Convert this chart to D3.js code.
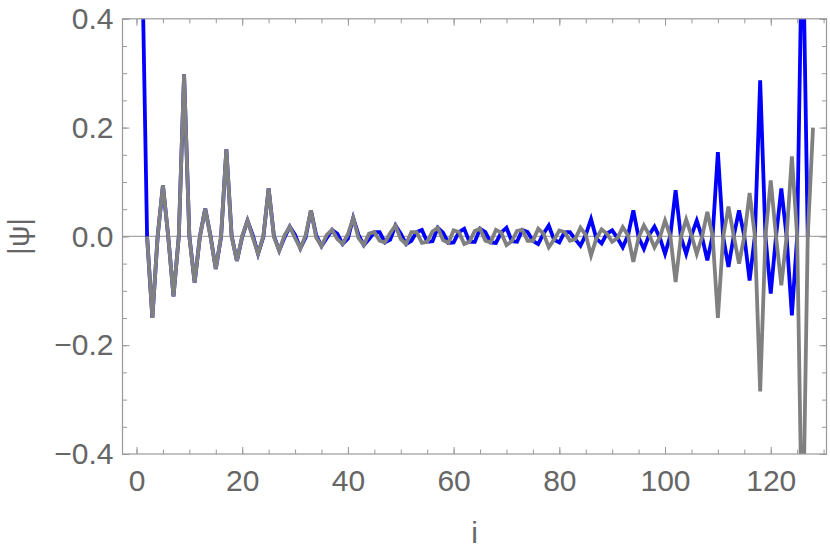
<!DOCTYPE html>
<html>
  <head>
    <script src="https://d3js.org/d3.v7.min.js"></script>
    <style>
      body { margin: 0; background: #fff; }
      text { font-family: "Liberation Sans", Arial, sans-serif; }
    </style>
  </head>
  <body>
    <svg width="830" height="550"></svg>

    <script type="text/javascript">
      // site index i = 1..128
      var sites = d3.range(1, 129);

      // blue curve (no point at i = 128)
      var blueValues = [
        0.55, 0, -0.15, 0, 0.094, 0, -0.11, 0, 0.298, 0.001,
        -0.085, 0, 0.051, 0.001, -0.06, -0.001, 0.16, 0.001, -0.045, -0.001,
        0.029, 0.002, -0.032, -0.001, 0.088, 0.001, -0.026, -0.002, 0.018, 0.003,
        -0.022, -0.002, 0.048, 0.002, -0.018, -0.003, 0.012, 0.005, -0.014, -0.004,
        0.034, 0.003, -0.016, -0.005, 0.008, 0.008, -0.011, -0.006, 0.02, 0.005,
        -0.014, -0.008, 0.008, 0.012, -0.01, -0.009, 0.016, 0.007, -0.012, -0.011,
        0.008, 0.014, -0.01, -0.01, 0.014, 0.008, -0.011, -0.012, 0.007, 0.016,
        -0.009, -0.01, 0.012, 0.008, -0.008, -0.014, 0.005, 0.02, -0.006, -0.011,
        0.008, 0.008, -0.005, -0.017, 0.003, 0.032, -0.004, -0.013, 0.005, 0.011,
        -0.003, -0.02, 0.002, 0.048, -0.002, -0.023, 0.003, 0.018, -0.002, -0.032,
        0.001, 0.085, -0.001, -0.032, 0.002, 0.029, -0.001, -0.044, 0.001, 0.155,
        -0.001, -0.056, 0.001, 0.048, 0, -0.081, 0.001, 0.287, 0, -0.105,
        0, 0.088, 0, -0.145, 0, 0.6, 0, null
      ];

      // gray curve (no point at i = 1)
      var grayValues = [
        null, 0, -0.15, 0, 0.094, 0, -0.11, 0, 0.298, -0.001,
        -0.085, 0, 0.051, -0.001, -0.06, 0.001, 0.16, -0.001, -0.045, 0.001,
        0.029, -0.002, -0.032, 0.001, 0.088, -0.001, -0.026, 0.002, 0.018, -0.003,
        -0.022, 0.002, 0.048, -0.002, -0.018, 0.003, 0.012, -0.005, -0.014, 0.004,
        0.034, -0.003, -0.016, 0.005, 0.008, -0.008, -0.011, 0.006, 0.02, -0.005,
        -0.014, 0.008, 0.008, -0.012, -0.01, 0.009, 0.016, -0.007, -0.012, 0.011,
        0.008, -0.014, -0.01, 0.01, 0.014, -0.008, -0.011, 0.012, 0.007, -0.016,
        -0.009, 0.01, 0.012, -0.008, -0.008, 0.014, 0.005, -0.02, -0.006, 0.011,
        0.008, -0.008, -0.005, 0.016, 0.003, -0.035, -0.004, 0.013, 0.005, -0.01,
        -0.003, 0.017, 0.002, -0.047, -0.002, 0.02, 0.003, -0.02, -0.002, 0.029,
        0.001, -0.084, -0.001, 0.031, 0.002, -0.032, -0.001, 0.045, 0.001, -0.15,
        -0.001, 0.055, 0.001, -0.05, 0, 0.08, 0.001, -0.285, 0, 0.103,
        0, -0.09, 0, 0.147, 0, -0.6, 0, 0.2
      ];

      var xTicks = [0, 20, 40, 60, 80, 100, 120];
      var xMinorTicks = d3.range(0, 131, 5);
      var yTicks = [-0.4, -0.2, 0, 0.2, 0.4];
      var yMinorTicks = d3.range(-8, 9).map((k) => k * 0.05);

      var svg = d3.select("svg");
      var plotLeft = 122.5,
        plotRight = 826.5,
        plotTop = 18.8,
        plotBottom = 454;

      var xScale = d3.scaleLinear().domain([-2.65, 130.55]).range([plotLeft, plotRight]);
      var yScale = d3.scaleLinear().domain([-0.4, 0.4]).range([plotBottom, plotTop]);

      svg.append("clipPath")
        .attr("id", "plotClip")
        .append("rect")
        .attr("x", plotLeft)
        .attr("y", plotTop)
        .attr("width", plotRight - plotLeft)
        .attr("height", plotBottom - plotTop);

      // zero line
      svg.append("line")
        .attr("x1", plotLeft)
        .attr("x2", plotRight)
        .attr("y1", yScale(0))
        .attr("y2", yScale(0))
        .attr("stroke", "#a8a8a8")
        .attr("stroke-width", 1.2);

      var lineGenerator = d3
        .line()
        .defined((d) => d.v != null)
        .x((d) => xScale(d.i))
        .y((d) => yScale(d.v));

      var series = [
        { values: blueValues, color: "#0000ff" },
        { values: grayValues, color: "#808080" }
      ];

      svg.append("g")
        .attr("clip-path", "url(#plotClip)")
        .selectAll("path")
        .data(series)
        .enter()
        .append("path")
        .attr("fill", "none")
        .attr("stroke", (s) => s.color)
        .attr("stroke-width", 3.8)
        .attr("stroke-linejoin", "miter")
        .attr("d", (s) => lineGenerator(sites.map((i, k) => ({ i: i, v: s.values[k] }))));

      function styleAxis(g) {
        g.select(".domain").remove();
        g.selectAll("line").attr("stroke", "#999");
        g.selectAll("text")
          .attr("fill", "#666")
          .style("font-size", "30px");
      }

      // bottom axis
      svg.append("g")
        .attr("transform", "translate(0," + plotBottom + ")")
        .call(d3.axisBottom(xScale).tickValues(xMinorTicks).tickSize(-4.5).tickFormat(""))
        .call(styleAxis);
      svg.append("g")
        .attr("transform", "translate(0," + plotBottom + ")")
        .call(d3.axisBottom(xScale).tickValues(xTicks).tickSize(-7).tickPadding(16))
        .call(styleAxis);

      // top axis
      svg.append("g")
        .attr("transform", "translate(0," + plotTop + ")")
        .call(d3.axisTop(xScale).tickValues(xMinorTicks).tickSize(-4.5).tickFormat(""))
        .call(styleAxis);
      svg.append("g")
        .attr("transform", "translate(0," + plotTop + ")")
        .call(d3.axisTop(xScale).tickValues(xTicks).tickSize(-7).tickFormat(""))
        .call(styleAxis);

      // left axis
      svg.append("g")
        .attr("transform", "translate(" + plotLeft + ",0)")
        .call(d3.axisLeft(yScale).tickValues(yMinorTicks).tickSize(-4.5).tickFormat(""))
        .call(styleAxis);
      svg.append("g")
        .attr("transform", "translate(" + plotLeft + ",0)")
        .call(d3.axisLeft(yScale).tickValues(yTicks).tickSize(-7).tickPadding(9).tickFormat(d3.format(".1f")))
        .call(styleAxis);

      // right axis
      svg.append("g")
        .attr("transform", "translate(" + plotRight + ",0)")
        .call(d3.axisRight(yScale).tickValues(yMinorTicks).tickSize(-4.5).tickFormat(""))
        .call(styleAxis);
      svg.append("g")
        .attr("transform", "translate(" + plotRight + ",0)")
        .call(d3.axisRight(yScale).tickValues(yTicks).tickSize(-7).tickFormat(""))
        .call(styleAxis);

      // frame
      svg.append("rect")
        .attr("x", plotLeft)
        .attr("y", plotTop)
        .attr("width", plotRight - plotLeft)
        .attr("height", plotBottom - plotTop)
        .attr("fill", "none")
        .attr("stroke", "#999")
        .attr("stroke-width", 1.2);

      // axis titles
      svg.append("text")
        .attr("x", (plotLeft + plotRight) / 2)
        .attr("y", 543)
        .attr("text-anchor", "middle")
        .attr("fill", "#666")
        .style("font-size", "30px")
        .text("i");

      svg.append("text")
        .attr("transform", "translate(29," + yScale(0) + ") rotate(-90)")
        .attr("text-anchor", "middle")
        .attr("fill", "#666")
        .style("font-size", "30px")
        .text("|ψ|");
    </script>
  </body>
</html>
